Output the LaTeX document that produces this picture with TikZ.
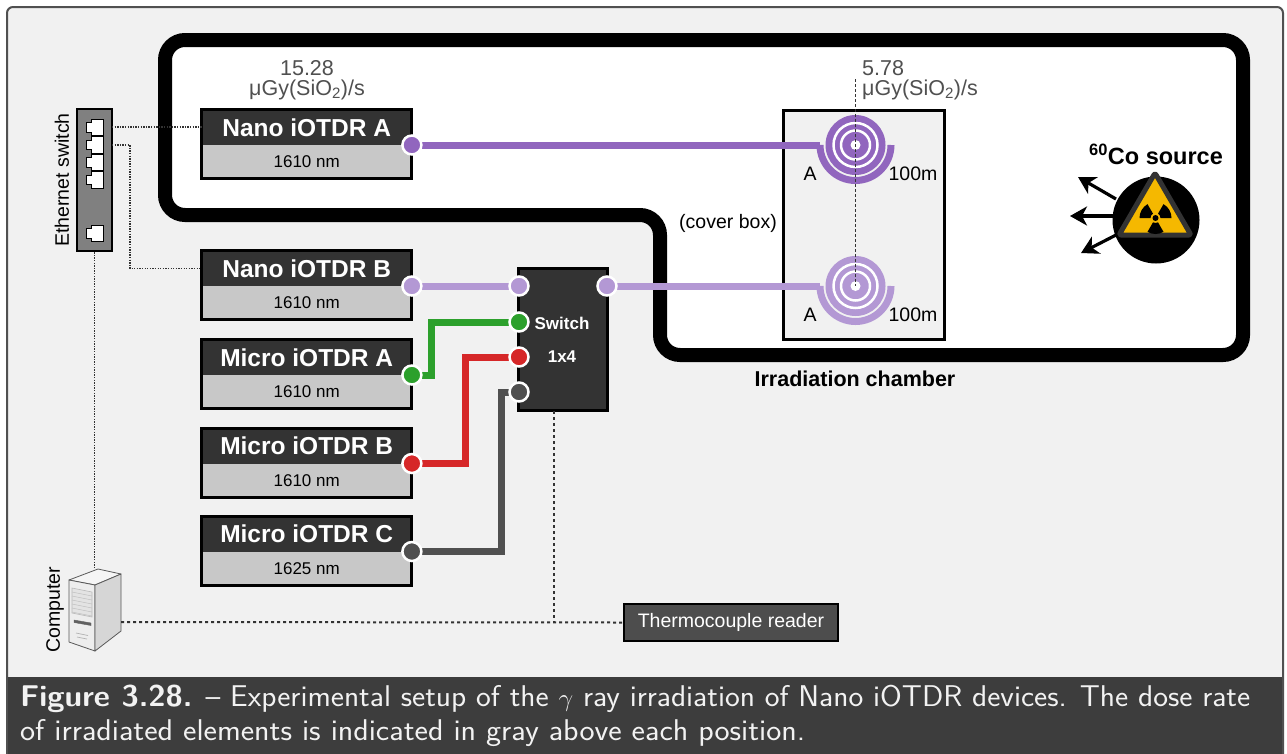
\documentclass[tikz,border=0pt]{standalone}
\usepackage{fontspec}
\setmainfont{Liberation Sans}
\usepackage{graphicx}
\usetikzlibrary{arrows.meta,calc}

\definecolor{panelbg}{HTML}{F1F1F1}
\definecolor{panelframe}{HTML}{505050}
\definecolor{capbg}{HTML}{3D3D3D}
\definecolor{captxt}{HTML}{F2F2F2}
\definecolor{hdrgray}{HTML}{333333}
\definecolor{lowgray}{HTML}{C8C8C8}
\definecolor{purpA}{HTML}{9166BE}
\definecolor{purpB}{HTML}{B398D4}
\definecolor{wgreen}{HTML}{2CA02C}
\definecolor{wred}{HTML}{D62728}
\definecolor{wgray}{HTML}{505050}
\definecolor{dotgray}{HTML}{333333}
\definecolor{dosegray}{HTML}{505050}
\definecolor{ethgray}{HTML}{808080}
\definecolor{tcgray}{HTML}{4D4D4D}
\definecolor{warnyellow}{HTML}{F5B800}

% a measurement device: name, left x, top y, title, wavelength
\newcommand\device[5]{%
  \node[devbody] (#1) at (#2,#3) {};
  \fill[hdrgray] (#1.north west) rectangle ($(#1.north east)+(0,35.5)$);
  \draw[boxline] (#1.north west) rectangle (#1.south east);
  \node[devtitle] (#1t) at ($(#1.north)+(0,18)$) {#4};
  \node[devwl] (#1w) at ($(#1.south)+(0,-17)$) {#5};
  \coordinate (#1p) at ($(#1.north east)+(0,35.5)$);
}

% a fibre spool: centre name, colour
\newcommand\spool[2]{%
  \draw[color=#2, line width=7pt] ($(#1)+(-35.5,0)$) arc[start angle=180, end angle=0, radius=35.5];
  \fill[#2] (#1) circle[radius=30];
  \draw[white, line width=2.5pt] (#1) circle[radius=22] (#1) circle[radius=14.5];
  \fill[white] (#1) circle[radius=5];
}

% one RJ45 socket, top-left corner given
\newcommand\ethport[2]{%
  \begin{scope}[shift={(#1,#2)}]
    \draw[fill=white, draw=black, line width=1pt]
      (5,0) -- (17,0) -- (17,16.5) -- (5,16.5) -- (5,13) -- (0,13) -- (0,3.5) -- (5,3.5) -- cycle;
  \end{scope}
}

\begin{document}
\begin{tikzpicture}[x=1pt, y=-1pt,
  wire/.style={line width=7pt, color=#1},
  port/.style={circle, fill=#1, draw=white, line width=2.5pt, minimum size=19pt, inner sep=0pt},
  devbody/.style={rectangle, anchor=north west, minimum width=210pt, minimum height=69pt, inner sep=0pt, fill=lowgray},
  boxline/.style={draw=black, line width=3pt},
  devtitle/.style={text=white, font=\bfseries\fontsize{24.5}{28}\selectfont, inner sep=0pt},
  devwl/.style={text=black, font=\fontsize{17}{20}\selectfont, inner sep=0pt},
  netline/.style={draw=dotgray, line width=1.3pt, dash pattern=on 1.3pt off 1.3pt},
  sigline/.style={draw=dotgray, line width=2pt, dash pattern=on 3pt off 3pt},
  spooldot/.style={draw=dotgray, line width=1.8pt, dash pattern=on 3pt off 2pt},
  dose/.style={text=dosegray, font=\fontsize{21.5}{24}\selectfont, inner sep=0pt},
  lbl/.style={text=black, font=\fontsize{19.5}{22}\selectfont, inner sep=0pt},
  swtext/.style={text=white, font=\bfseries\fontsize{17}{20}\selectfont, inner sep=0pt},
  raysarrow/.style={line width=3.2pt, -{Stealth[length=17pt, width=19pt, inset=5pt]}},
  pcline/.style={draw=gray!70!black, line width=0.8pt, line join=round},
]
\useasboundingbox (0,0) rectangle (1287,753);
\fill[white] (0,0) rectangle (1287,753);

% panel and caption band
\draw[fill=panelbg, draw=panelframe, line width=2pt, rounded corners=6pt] (7,7) rectangle (1283,775);
\fill[capbg] (8,677) rectangle (1282,775);

% irradiation chamber wall
\draw[line width=14pt, fill=white, rounded corners=20pt]
  (165,40) -- (1243,40) -- (1243,355) -- (660,355) -- (660,215) -- (165,215) -- cycle;
\node[lbl, font=\bfseries\fontsize{21.5}{24}\selectfont] (chlabel) at (855,379) {Irradiation chamber};
\node[lbl] (coverlbl) at (728,223) {(cover box)};

% cover box holding the spools
\node[draw=black, line width=3pt, fill=panelbg, minimum width=161pt, minimum height=229pt, inner sep=0pt] (cbox) at (863.5,224.5) {};

% dose rates
\node[dose] (dA1) at (307,68) {15.28};
\node[dose] (dA2) at (307,90) {μGy(SiO\textsubscript{2})/s};
\node[dose, anchor=west] (dB1) at (862,68) {5.78};
\node[dose, anchor=west] (dB2) at (862,90) {μGy(SiO\textsubscript{2})/s};

% ethernet switch
\node[draw=black, line width=2.5pt, fill=ethgray, minimum width=35pt, minimum height=142pt, inner sep=0pt] (eth) at (94.5,180) {};
\ethport{86}{119}
\ethport{86}{136.5}
\ethport{86}{154}
\ethport{86}{171.5}
\ethport{86}{225}
\node[lbl, rotate=90] (ethlbl) at (62,180) {Ethernet switch};

% computer tower
\coordinate (pcT) at (94.5,569);
\coordinate (pcR) at (121,622);
\draw[pcline, fill=gray!8] (69,580) -- (98,569) -- (121,574) -- (95,585) -- cycle;
\draw[pcline, fill=gray!14] (69,580) -- (95,585) -- (95,651) -- (69,642) -- cycle;
\draw[pcline, fill=gray!32] (95,585) -- (121,574) -- (121,631) -- (95,651) -- cycle;
\draw[draw=gray!55, fill=gray!22, line width=0.6pt] (72,588) -- (92,592) -- (92,617) -- (72,613) -- cycle;
\foreach \k in {0,...,5} {\draw[gray!50, line width=0.5pt] (72,592+4*\k) -- (92,596+4*\k);}
\draw[fill=gray!75!black, draw=gray!75!black] (74,620) -- (91,623) -- (91,625.5) -- (74,622.5) -- cycle;
\draw[gray!60, line width=0.7pt] (76,633) -- (88,635.5) (77,637) -- (87,639);
\node[lbl, rotate=90] (pclbl) at (55,610) {Computer};

% thermocouple reader
\node[draw=black, line width=2.5pt, fill=tcgray, minimum width=214pt, minimum height=37pt, inner sep=0pt,
      text=white, font=\fontsize{19.5}{22}\selectfont] (tc) at (731,622.5) {Thermocouple reader};

% devices
\device{nA}{201.5}{109.5}{Nano iOTDR A}{1610 nm}
\device{nB}{201.5}{250.5}{Nano iOTDR B}{1610 nm}
\device{mA}{201.5}{339.5}{Micro iOTDR A}{1610 nm}
\device{mB}{201.5}{428}{Micro iOTDR B}{1610 nm}
\device{mC}{201.5}{516}{Micro iOTDR C}{1625 nm}

% optical switch
\node[draw=black, line width=3pt, fill=hdrgray, minimum width=89pt, minimum height=142pt, inner sep=0pt] (sw) at (563,339.5) {};
\node[swtext] (swt1) at (562,323) {Switch};
\node[swtext] (swt2) at (562,357) {1x4};

% network / signal lines
\coordinate (e1) at (112,127);
\coordinate (e2) at (112,145);
\coordinate (e2end) at ($(nB.north west)+(0,18)$);
\coordinate (swb) at (554,411);
\draw[netline] (e1) -- (e1 -| nA.west);
\draw[netline] (e2) -- ++(18,0) |- (e2end);
\draw[netline] (eth.south) -- (pcT);
\draw[sigline] (pcR) -- (tc.west);
\draw[sigline] (swb) -- (swb |- tc.west);

% fibre routes
\coordinate (sA) at (855.5,145);
\coordinate (sB) at (855.5,286);
\coordinate (sw0) at (519,286);
\coordinate (swg) at (519,322);
\coordinate (swr) at (519,357);
\coordinate (swk) at (519,392);
\coordinate (swo) at (607,286);
\draw[wire=purpA] (nAp) -- ($(sA)+(-35.5,0)$);
\draw[wire=purpB] (nBp) -- (sw0);
\draw[wire=purpB] (swo) -- ($(sB)+(-35.5,0)$);
\draw[wire=wgreen] (mAp) -- ++(20,0) |- (swg);
\draw[wire=wred] (mBp) -- ++(54,0) |- (swr);
\draw[wire=wgray] (mCp) -- ++(90,0) |- (swk);

% connectors
\node[port=purpA] (pnA) at (nAp) {};
\node[port=purpB] (pnB) at (nBp) {};
\node[port=wgreen] (pmA) at (mAp) {};
\node[port=wred] (pmB) at (mBp) {};
\node[port=wgray] (pmC) at (mCp) {};
\node[port=purpB] (ps0) at (sw0) {};
\node[port=wgreen] (psg) at (swg) {};
\node[port=wred] (psr) at (swr) {};
\node[port=wgray] (psk) at (swk) {};
\node[port=purpB] (pso) at (swo) {};

% spools
\spool{sA}{purpA}
\spool{sB}{purpB}
\draw[spooldot] (855.5,79) -- (sB);
\node[lbl] (aA) at (810,174) {A};
\node[lbl] (lA) at (913,174) {100m};
\node[lbl] (aB) at (810,315) {A};
\node[lbl] (lB) at (913,315) {100m};

% cobalt source
\node[lbl, font=\bfseries\fontsize{23.5}{26}\selectfont] (colbl) at (1156,154) {\textsuperscript{60}Co source};
\node[circle, fill=black, minimum size=87pt, inner sep=0pt] (co) at (1156,220) {};
\draw[fill=warnyellow, draw=hdrgray, line width=5pt, line join=round, rounded corners=2pt]
  (1155,173) -- (1191,235) -- (1119,235) -- cycle;
\coordinate (tre) at (1155.5,218);
\foreach \a in {90,210,330} {
  \fill[black] ($(tre)+(\a-30:5)$) -- ($(tre)+(\a-30:16)$) arc[start angle=\a-30, end angle=\a+30, radius=16]
    -- ($(tre)+(\a+30:5)$) arc[start angle=\a+30, end angle=\a-30, radius=5] -- cycle;
}
\fill[black] (tre) circle[radius=3];
\coordinate (r1s) at (1116,199);
\coordinate (r1e) at (1078,177);
\coordinate (r2s) at (1113,216);
\coordinate (r2e) at (1070,216);
\coordinate (r3s) at (1116,235);
\coordinate (r3e) at (1081,253);
\draw[raysarrow] (r1s) -- (r1e);
\draw[raysarrow] (r2s) -- (r2e);
\draw[raysarrow] (r3s) -- (r3e);

% caption
\node[anchor=base west, inner sep=0pt, text=captxt] (cap1) at (20,706)
  {\resizebox{1230pt}{\height}{\sffamily\fontsize{30}{34}\selectfont\textbf{Figure 3.28.} – Experimental setup of the $\gamma$ ray irradiation of Nano iOTDR devices. The dose rate}};
\node[anchor=base west, inner sep=0pt, text=captxt] (cap2) at (20,740)
  {\resizebox{785pt}{\height}{\sffamily\fontsize{30}{34}\selectfont of irradiated elements is indicated in gray above each position.}};
\end{tikzpicture}
\end{document}
